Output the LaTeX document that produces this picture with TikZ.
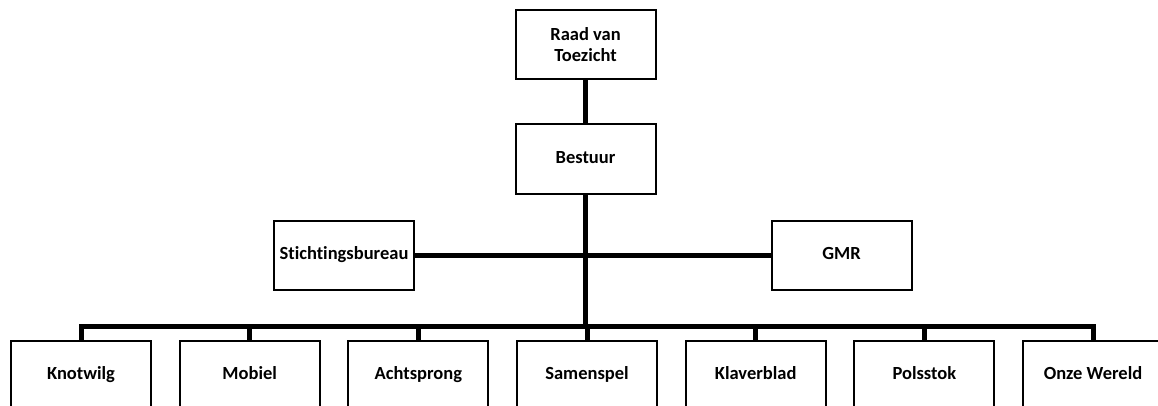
\documentclass[tikz,border=0pt]{standalone}
\usepackage{fontspec}
\setmainfont[Ligatures={NoCommon}]{Carlito}
\begin{document}
\begin{tikzpicture}[x=1pt,y=-1pt,
  box/.style={draw=black,line width=2pt,fill=white,minimum width=140pt,minimum height=69pt,inner sep=0pt,align=center,text height=12.5pt,text depth=3.5pt,font=\fontsize{18.5}{21}\selectfont\bfseries},
  conn/.style={line width=5pt,line join=miter}]
\useasboundingbox (0,0) rectangle (1158,406);
\clip (0,0) rectangle (1158,406);
\node[box,text height=,text depth=] (raad) at (585.5,45) {Raad van\\Toezicht};
\node[box] (best) at (585.5,159) {Bestuur};
\node[box] (sb) at (344,255) {Stichtingsbureau};
\node[box] (gmr) at (841.5,255) {GMR};
\coordinate (busL) at (81,326);
\coordinate (busR) at (1093,326);
\foreach \n/\t [count=\i from 0] in {k/Knotwilg,m/Mobiel,a/Achtsprong,s/Samenspel,kl/Klaverblad,p/Polsstok,o/Onze Wereld}{
  \node[box] (\n) at ({81+168.67*\i},375) {\t};
}
\draw[conn] (raad.south) -- (best.north);
\draw[conn] (best.south) -- (best.south |- busL);
\draw[conn] (sb.east) -- (gmr.west);
\draw[conn] (busL |- k.north) -- (busL) -- (busR) -- (busR |- o.north);
\foreach \n in {m,a,s,kl,p}{
  \draw[conn] (\n.north) -- (\n.north |- busL);
}
\end{tikzpicture}
\end{document}
